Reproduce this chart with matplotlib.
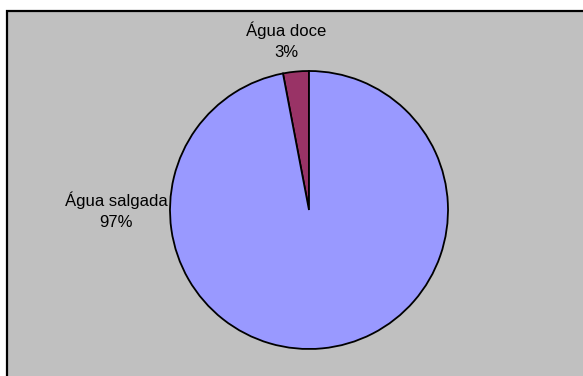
import matplotlib.pyplot as plt
from matplotlib.patches import Rectangle

labels = ['Água doce', 'Água salgada']
shares = [3, 97]
colors = ['#993366', '#9999FF']

W, H = 583, 376
fig = plt.figure(figsize=(W / 100, H / 100), dpi=100)
fig.patch.set_facecolor('white')

# gray chart area with black frame (runs off the right/bottom edges)
fig.patches.append(Rectangle((7 / W, -0.05), 1.1, (H - 11) / H + 0.05,
                             transform=fig.transFigure, facecolor='#c0c0c0',
                             edgecolor='black', linewidth=1.6, zorder=-1))

r = 139
cx, cy = 309, 210
ax = fig.add_axes([(cx - r) / W, (H - cy - r) / H, 2 * r / W, 2 * r / H])
ax.set_zorder(1)
ax.pie(shares, colors=colors, startangle=90, counterclock=True, radius=1,
       wedgeprops=dict(edgecolor='black', linewidth=1.3))
ax.set_xlim(-1, 1)
ax.set_ylim(-1, 1)
ax.axis('off')

font = dict(family=['Liberation Sans', 'DejaVu Sans'], fontsize=12,
            ha='center', va='center', linespacing=1.5, zorder=2)
fig.text(286 / W, 1 - 41 / H, f'{labels[0]}\n{shares[0]}%', **font)
fig.text(116 / W, 1 - 211 / H, f'{labels[1]}\n{shares[1]}%', **font)

fig.savefig('out.png', dpi=100)
